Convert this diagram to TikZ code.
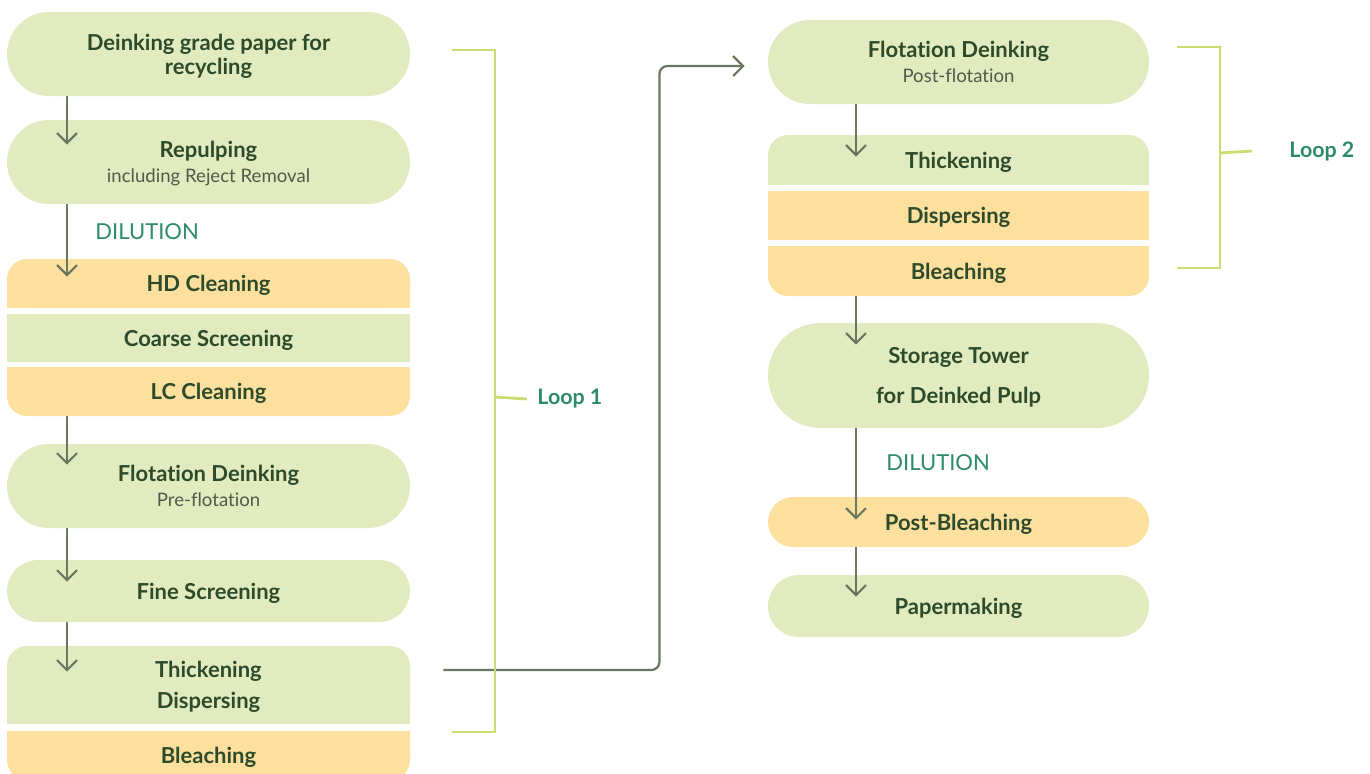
\documentclass[tikz,border=0pt]{standalone}
\usepackage{fontspec}
\setmainfont{Lato}[Ligatures={NoCommon}]
\usetikzlibrary{arrows.meta,shapes.misc,backgrounds}

\definecolor{boxgreen}{HTML}{E2EBBF}
\definecolor{boxorange}{HTML}{FEE09E}
\definecolor{textdark}{HTML}{2D4A2B}
\definecolor{subgrey}{HTML}{4F5A4A}
\definecolor{tealtext}{HTML}{2E8A6E}
\definecolor{flowline}{HTML}{6A7860}
\definecolor{loopgreen}{HTML}{CCDB70}

\newcommand{\subtxt}[1]{{\mdseries\fontsize{9.3}{10}\selectfont\color{subgrey}#1}}

\begin{document}
\begin{tikzpicture}[x=0.5pt,y=-0.5pt,>={Straight Barb[length=5pt,width=10pt]},
        flow/.style={draw=flowline,line width=1.1pt},
        loopline/.style={draw=loopgreen,line width=1.4pt},
        pill/.style={rounded rectangle,fill=boxgreen,text=textdark,align=center,inner sep=0pt,
                     text depth=0pt,font=\fontsize{11}{12}\selectfont\bfseries},
        midrow/.style={rectangle,fill=boxgreen,text=textdark,align=center,inner sep=0pt,
                     text depth=0pt,font=\fontsize{11}{12}\selectfont\bfseries},
        toprow/.style={midrow,rounded corners=10pt},
        botrow/.style={midrow,rounded corners=10pt},
        wl/.style={minimum width=201.5pt},
        wr/.style={minimum width=190.5pt},
        note/.style={text=tealtext,font=\fontsize{11}{12}\selectfont,inner sep=0pt},
        looplabel/.style={text=tealtext,font=\fontsize{10.7}{12}\selectfont\bfseries,inner sep=0pt}]

    \useasboundingbox (0,0) rectangle (1370,773);

    % left column
    \node[pill,wl,minimum height=42pt] (src) at (208.5,54) {Deinking grade paper for\\recycling};
    \node[pill,wl,minimum height=42pt] (rep) at (208.5,162) {Repulping\\[0.5pt]\subtxt{including Reject Removal}};
    \node[note,anchor=west] (dil1) at (95,232) {DILUTION};
    \node[toprow,wl,fill=boxorange,minimum height=24.5pt] (hd) at (208.5,283.5) {HD Cleaning};
    \node[midrow,wl,minimum height=24pt] (coarse) at (208.5,338) {Coarse Screening};
    \node[botrow,wl,fill=boxorange,minimum height=24.5pt] (lc) at (208.5,391.5) {LC Cleaning};
    \node[pill,wl,minimum height=42pt] (pre) at (208.5,486) {Flotation Deinking\\[0.5pt]\subtxt{Pre-flotation}};
    \node[pill,wl,minimum height=31pt] (fine) at (208.5,591) {Fine Screening};
    \node[toprow,wl,minimum height=39pt] (thd) at (208.5,685) {Thickening\\[3.5pt]Dispersing};
    \node[botrow,wl,fill=boxorange,minimum height=24.5pt] (bl1) at (208.5,755.5) {Bleaching};

    % right column
    \node[pill,wr,minimum height=42pt] (post) at (958.5,62) {Flotation Deinking\\[0.5pt]\subtxt{Post-flotation}};
    \node[toprow,wr,minimum height=25pt] (thk) at (958.5,160) {Thickening};
    \node[midrow,wr,fill=boxorange,minimum height=24.5pt] (dsp) at (958.5,215.5) {Dispersing};
    \node[botrow,wr,fill=boxorange,minimum height=25pt] (bl2) at (958.5,271) {Bleaching};
    \node[pill,wr,minimum height=52.5pt] (tower) at (958.5,375.5) {Storage Tower\\[8pt]for Deinked Pulp};
    \node[note,anchor=west] (dil2) at (886,463) {DILUTION};
    \node[pill,wr,fill=boxorange,minimum height=25pt] (pbl) at (958.5,522) {Post-Bleaching};
    \node[pill,wr,minimum height=31pt] (pap) at (958.5,606) {Papermaking};

    % loop labels
    \node[looplabel,anchor=west] (loop1) at (537,399) {Loop 1};
    \node[looplabel,anchor=west] (loop2) at (1289,151) {Loop 2};

    % square off the joined corners
    \begin{scope}[on background layer]
        \fill[boxorange] (hd.south west) rectangle ([yshift=12pt]hd.south east);
        \fill[boxorange] (lc.north west) rectangle ([yshift=-12pt]lc.north east);
        \fill[boxgreen] (thd.south west) rectangle ([yshift=12pt]thd.south east);
        \fill[boxorange] (bl1.north west) rectangle ([yshift=-12pt]bl1.north east);
        \fill[boxgreen] (thk.south west) rectangle ([yshift=12pt]thk.south east);
        \fill[boxorange] (bl2.north west) rectangle ([yshift=-12pt]bl2.north east);
    \end{scope}

    % flow arrows
    \draw[->,flow] ([xshift=-70.75pt]src.south) -- ([xshift=-70.75pt,yshift=-12.5pt]rep.north);
    \draw[->,flow] ([xshift=-70.75pt]rep.south) -- ([xshift=-70.75pt,yshift=-9pt]hd.north);
    \draw[->,flow] ([xshift=-70.75pt]lc.south) -- ([xshift=-70.75pt,yshift=-10.5pt]pre.north);
    \draw[->,flow] ([xshift=-70.75pt]pre.south) -- ([xshift=-70.75pt,yshift=-11pt]fine.north);
    \draw[->,flow] ([xshift=-70.75pt]fine.south) -- ([xshift=-70.75pt,yshift=-13pt]thd.north);

    \draw[->,flow] ([xshift=-51.25pt]post.south) -- ([xshift=-51.25pt,yshift=-11pt]thk.north);
    \draw[->,flow] ([xshift=-51.25pt]bl2.south) -- ([xshift=-51.25pt,yshift=-11pt]tower.north);
    \draw[->,flow] ([xshift=-51.25pt]tower.south) -- ([xshift=-51.25pt,yshift=-11.5pt]pbl.north);
    \draw[->,flow] ([xshift=-51.25pt]pbl.south) -- ([xshift=-51.25pt,yshift=-11pt]pap.north);

    \draw[->,flow,rounded corners=4pt] ([xshift=16.5pt,yshift=7.5pt]thd.east) -- ++(216,0)
        |- ([xshift=-11.5pt,yshift=-2pt]post.west);

    % loop brackets
    \draw[loopline] (452,50) -- (495,50) -- (495,732) -- (452,732);
    \draw[loopline] (495,397) -- ([xshift=-5pt]loop1.west);
    \draw[loopline] (1177,47) -- (1220,47) -- (1220,268) -- (1177,268);
    \draw[loopline] (1220,153) -- ([xshift=-18.5pt]loop2.west);

\end{tikzpicture}
\end{document}
